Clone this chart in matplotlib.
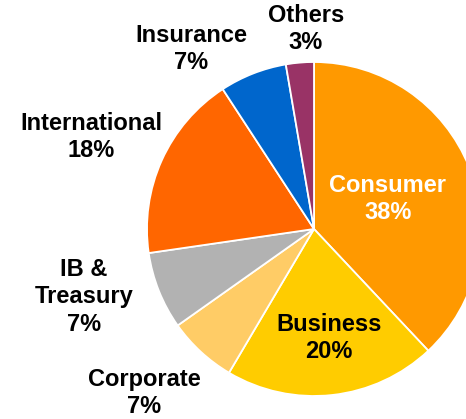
import matplotlib.pyplot as plt

plt.rcParams['font.family'] = ['Liberation Sans', 'DejaVu Sans']

# data (slice sizes, labels as printed)
segments = ["Consumer", "Business", "Corporate", "IB &\nTreasury",
            "International", "Insurance", "Others"]
shares = [38.0, 20.5, 6.7, 7.5, 18.1, 6.5, 2.7]
pct_labels = ["38%", "20%", "7%", "7%", "18%", "7%", "3%"]
colors = ["#FF9900", "#FFCC00", "#FFCC66", "#B2B2B2",
          "#FF6600", "#0066CC", "#993366"]
text_colors = ["white", "black", "black", "black", "black", "black", "black"]

# label centres in pixel coords (x, y from top)
label_xy = [(388, 199), (329, 338), (144, 393), (84, 297),
            (91, 137), (191, 49), (306, 29)]

W, H = 466, 419
fig = plt.figure(figsize=(W / 100, H / 100), dpi=100)
ax = fig.add_axes([0, 0, 1, 1])

ax.pie(shares, colors=colors, startangle=90, counterclock=False,
       center=(314, H - 229), radius=167,
       wedgeprops=dict(edgecolor='white', linewidth=1.3))
ax.set_xlim(0, W)
ax.set_ylim(0, H)
ax.set_aspect('equal')
ax.axis('off')

for name, pct, (x, y), tc in zip(segments, pct_labels, label_xy, text_colors):
    ax.text(x, H - y, f"{name}\n{pct}", ha='center', va='center',
            fontsize=17, fontweight='bold', color=tc, linespacing=1.25)

fig.savefig("out.png", dpi=100)
